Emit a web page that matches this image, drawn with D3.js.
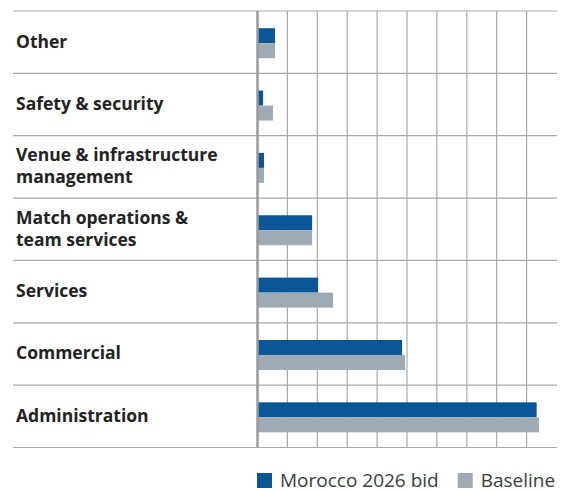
<!DOCTYPE html>
<html>
<head>
<meta charset="utf-8">
<script src="https://cdn.jsdelivr.net/npm/d3@7"></script>
<style>
  body { margin: 0; background: #fff; }
  svg { display: block; }
</style>
</head>
<body>
<svg id="chart" width="563" height="492"></svg>
<script>
// categories top to bottom, labels split into lines
var categories = ["Other", "Safety & security", "Venue & infrastructure management",
    "Match operations & team services", "Services", "Commercial", "Administration"];
var labelLines = [["Other"], ["Safety & security"], ["Venue & infrastructure", "management"],
    ["Match operations &", "team services"], ["Services"], ["Commercial"], ["Administration"]];
var morocco = [5.7, 1.7, 2.0, 18.1, 20.1, 48.2, 93.2];
var baseline = [5.7, 5.0, 2.0, 18.1, 25.1, 49.2, 94.0];
var seriesNames = ["Morocco 2026 bid", "Baseline"];
var colors = ["#0b5795", "#9eabb4"];

function draw() {
    var svg = d3.select("#chart");

    var x = d3.scaleLinear().domain([0, 100]).range([258, 557]);
    var y = d3.scaleBand().domain(categories).range([11, 447.5]);
    var barH = 15;

    // vertical gridlines
    svg.append("g").selectAll("line")
        .data(x.ticks(10).filter(function(d) { return d > 0 && d < 100; }))
        .enter().append("line")
        .attr("x1", function(d) { return x(d) - 0.5; })
        .attr("x2", function(d) { return x(d) - 0.5; })
        .attr("y1", 11)
        .attr("y2", 447.5)
        .attr("stroke", "#a9a9a9")
        .attr("stroke-width", 1.2);

    // horizontal row separators
    var seps = categories.map(function(c) { return y(c); }).concat([y.range()[1]]);
    svg.append("g").selectAll("line")
        .data(seps)
        .enter().append("line")
        .attr("x1", 13)
        .attr("x2", 557)
        .attr("y1", function(d) { return d; })
        .attr("y2", function(d) { return d; })
        .attr("stroke", "#a9a9a9")
        .attr("stroke-width", 1.2);

    var rows = svg.append("g").selectAll("g")
        .data(categories)
        .enter().append("g")
        .attr("transform", function(d) {
            return "translate(0," + (y(d) + y.bandwidth() / 2 + 1) + ")";
        });

    rows.append("rect")
        .attr("x", x(0))
        .attr("y", -barH)
        .attr("width", function(d, i) { return x(morocco[i]) - x(0); })
        .attr("height", barH)
        .attr("fill", colors[0]);

    rows.append("rect")
        .attr("x", x(0))
        .attr("y", 0)
        .attr("width", function(d, i) { return x(baseline[i]) - x(0); })
        .attr("height", barH)
        .attr("fill", colors[1]);

    // category labels
    rows.append("text")
        .attr("font-family", "'Open Sans', sans-serif")
        .attr("font-weight", 700)
        .attr("font-size", 17.5)
        .attr("fill", "#222")
        .each(function(d, i) {
            var lines = labelLines[i];
            var t = d3.select(this);
            var start = lines.length == 1 ? 4.5 : -6.5;
            lines.forEach(function(l, j) {
                t.append("tspan").attr("x", 16).attr("y", start + j * 22).text(l);
            });
        });

    // zero axis
    svg.append("line")
        .attr("x1", x(0) - 0.5).attr("x2", x(0) - 0.5)
        .attr("y1", 11).attr("y2", 447.5)
        .attr("stroke", "#9a9a9a")
        .attr("stroke-width", 2.5);

    // legend
    var items = svg.append("g").selectAll("g")
        .data(seriesNames)
        .enter().append("g");
    items.append("rect")
        .attr("width", 15).attr("height", 15)
        .attr("y", 473)
        .attr("fill", function(d, i) { return colors[i]; });
    items.append("text")
        .attr("x", 23)
        .attr("y", 486.5)
        .attr("font-family", "'Open Sans', sans-serif")
        .attr("font-size", 19)
        .attr("fill", "#3c3c3c")
        .text(function(d) { return d; });

    var left = 257;
    items.each(function() {
        var g = d3.select(this);
        g.attr("transform", "translate(" + left + ",0)");
        left += 23 + g.select("text").node().getComputedTextLength() + 19;
    });
}
window.onload = draw;
</script>
</body>
</html>
